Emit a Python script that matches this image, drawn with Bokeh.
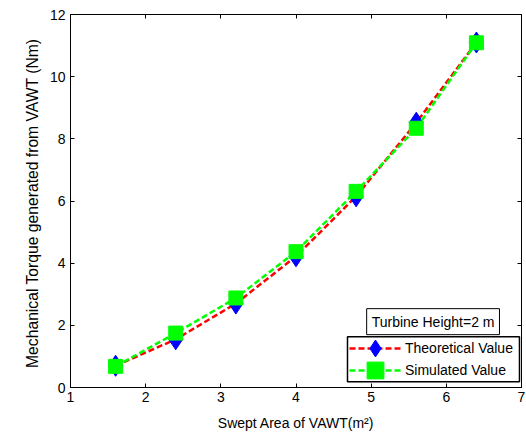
from bokeh.plotting import figure
from bokeh.models import Range1d, LinearAxis, Label, Legend, BoxAnnotation
from bokeh.embed import file_html
from bokeh.resources import INLINE

swept_area = [1.6, 2.4, 3.2, 4.0, 4.8, 5.6, 6.4]
theoretical = [0.70, 1.55, 2.70, 4.22, 6.15, 8.52, 11.10]
simulated = [0.68, 1.75, 2.88, 4.37, 6.31, 8.34, 11.09]
x_ticks = [1, 2, 3, 4, 5, 6, 7]
y_ticks = [0, 2, 4, 6, 8, 10, 12]

FONT = "Liberation Sans"

p = figure(width=526, height=434, output_backend="svg", toolbar_location=None,
           x_range=Range1d(1, 7), y_range=Range1d(0, 12),
           min_border_left=70, min_border_top=14, min_border_bottom=47, min_border_right=5)
p.grid.visible = False
p.outline_line_color = "black"
p.outline_line_width = 1
p.background_fill_color = "white"
p.border_fill_color = "white"

for ax in [p.xaxis[0], p.yaxis[0]]:
    ax.major_tick_in = 4
    ax.major_tick_out = 0
    ax.minor_tick_in = 0
    ax.minor_tick_out = 0
    ax.axis_line_color = "black"
    ax.major_tick_line_color = "black"
    ax.major_label_text_font = FONT
    ax.major_label_text_font_size = "14px"
    ax.major_label_text_color = "black"
    ax.axis_label_text_font = FONT
    ax.axis_label_text_font_style = "normal"
    ax.axis_label_text_color = "black"

p.xaxis.ticker = x_ticks
p.yaxis.ticker = y_ticks
p.xaxis.axis_label = "Swept Area of VAWT(m\u00b2)"
p.yaxis.axis_label = "Mechanical Torque generated from VAWT  (Nm)"
p.xaxis.axis_label_text_font_size = "14px"
p.yaxis.axis_label_text_font_size = "15.7px"
p.xaxis.major_label_standoff = 4
p.yaxis.major_label_standoff = 5
p.xaxis.axis_label_standoff = 10
p.yaxis.axis_label_standoff = 6

for loc in ["right", "above"]:
    ticks = x_ticks if loc == "above" else y_ticks
    ax = LinearAxis(ticker=ticks)
    ax.major_tick_in = 4
    ax.major_tick_out = 0
    ax.minor_tick_in = 0
    ax.minor_tick_out = 0
    ax.major_label_overrides = {t: "" for t in ticks}
    ax.major_label_text_font_size = "14px"
    ax.major_label_standoff = 0
    ax.axis_line_color = "black"
    p.add_layout(ax, loc)

r1 = p.line(swept_area, theoretical, line_color="red", line_width=2.5, line_dash="6 3")
r2 = p.scatter(swept_area, theoretical, marker="diamond", size=21, fill_color="blue", line_color="blue")
r3 = p.line(swept_area, simulated, line_color="#00ff00", line_width=2.5, line_dash="6 3")
r4 = p.scatter(swept_area, simulated, marker="square", size=14, fill_color="#00ff00", line_color="#00ff00")

# legend frame (drawn behind the legend items)
box = BoxAnnotation(left=4.685, right=6.973, bottom=0.184, top=1.632,
                    fill_color="white", fill_alpha=1.0,
                    line_color="black", line_width=1.5, line_alpha=1.0)
p.add_layout(box)


def make_legend(label, renderers, loc):
    lg = Legend(items=[(label, renderers)], location=loc)
    lg.label_text_font = FONT
    lg.label_text_font_size = "14px"
    lg.label_text_color = "black"
    lg.border_line_color = None
    lg.background_fill_alpha = 0
    lg.glyph_width = 52
    lg.glyph_height = 42
    lg.label_height = 42
    lg.padding = 0
    lg.margin = 0
    lg.label_standoff = 4
    return lg


p.add_layout(make_legend("Theoretical Value", [r1, r2], (279, 18)))
p.add_layout(make_legend("Simulated Value", [r3, r4], (279, -4)))

lab = Label(x=4.94, y=1.70, text="Turbine Height=2 m", text_font=FONT,
            text_font_size="14px", text_color="black",
            border_line_color="black", border_line_width=1,
            background_fill_color="white", padding=5)
p.add_layout(lab)

open("out.html", "w").write(file_html(p, INLINE))
